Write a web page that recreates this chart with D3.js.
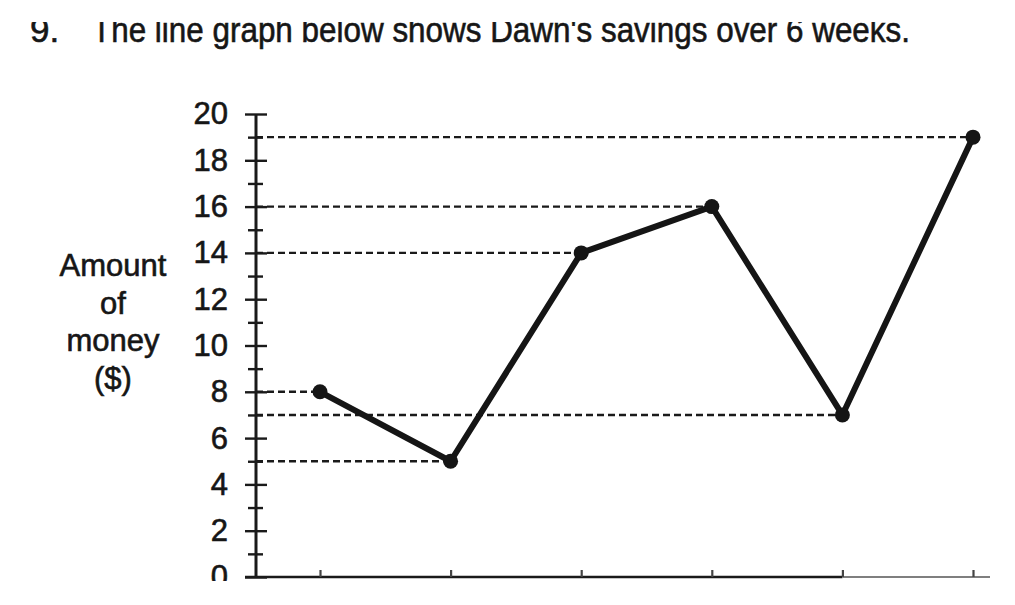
<!DOCTYPE html>
<html>
<head>
<meta charset="utf-8">
<script src="https://cdn.jsdelivr.net/npm/d3@7"></script>
<style>
  body { margin: 0; background: #fff; }
  text { font-family: "Liberation Sans", Arial, sans-serif; fill: #161616; stroke: #161616; stroke-width: 0.6px; }
</style>
</head>
<body>
<svg id="chart" width="1015" height="605"></svg>
<script>
// Dawn's savings, weeks 1-6
const weeks = [1, 2, 3, 4, 5, 6];
const savings = [8, 5, 14, 16, 7, 19];
const majorTicks = [0, 2, 4, 6, 8, 10, 12, 14, 16, 18, 20];
const minorTicks = [1, 3, 5, 7, 9, 11, 13, 15, 17, 19];
const yLabelLines = ['Amount', 'of', 'money', '($)'];
const titleNumber = '9.';
const titleText = "The line graph below shows Dawn's savings over 6 weeks.";

const svg = d3.select('#chart');
const axisX = 256;

const xScale = d3.scaleLinear().domain([1, 6]).range([320, 973]);
const yScale = d3.scaleLinear().domain([0, 20]).range([577, 114]);

// the scan is cropped top and bottom
const defs = svg.append('defs');
defs.append('clipPath').attr('id', 'page')
  .append('rect').attr('x', 0).attr('y', 22).attr('width', 1015).attr('height', 559);

const page = svg.append('g').attr('clip-path', 'url(#page)');

// title
page.append('text')
  .attr('x', 30).attr('y', 42)
  .style('font-size', '35px')
  .text(titleNumber);

page.append('text')
  .attr('x', 92).attr('y', 42)
  .style('font-size', '35px')
  .attr('textLength', 818)
  .attr('lengthAdjust', 'spacingAndGlyphs')
  .text(titleText);

// y axis label
page.append('g')
  .selectAll('text')
  .data(yLabelLines)
  .enter()
  .append('text')
  .attr('x', 113)
  .attr('y', (d, i) => 276 + i * 37.5)
  .attr('text-anchor', 'middle')
  .style('font-size', '31px')
  .text((d) => d);

// guide lines from the axis to each point
page.append('g')
  .selectAll('line')
  .data(weeks)
  .enter()
  .append('line')
  .attr('x1', axisX)
  .attr('x2', (d) => xScale(d))
  .attr('y1', (d, i) => yScale(savings[i]))
  .attr('y2', (d, i) => yScale(savings[i]))
  .attr('stroke', '#1a1a1a')
  .attr('stroke-width', 2.4)
  .attr('stroke-dasharray', '7,4');

// major ticks crossing the axis
const yMajor = page.append('g')
  .attr('transform', `translate(${axisX + 11},0)`)
  .call(d3.axisLeft(yScale).tickValues(majorTicks).tickSize(22).tickPadding(17));
yMajor.select('.domain').remove();
yMajor.selectAll('line').attr('stroke', '#1a1a1a').attr('stroke-width', 2.4);
yMajor.selectAll('text')
  .style('font-size', '31px')
  .style('font-family', '"Liberation Sans", Arial, sans-serif')
  .attr('fill', '#161616');

// minor ticks
const yMinor = page.append('g')
  .attr('transform', `translate(${axisX + 7},0)`)
  .call(d3.axisLeft(yScale).tickValues(minorTicks).tickSize(15).tickFormat(''));
yMinor.select('.domain').remove();
yMinor.selectAll('line').attr('stroke', '#1a1a1a').attr('stroke-width', 2.4);

// axis lines
page.append('line')
  .attr('x1', axisX).attr('x2', axisX)
  .attr('y1', yScale(20)).attr('y2', yScale(0))
  .attr('stroke', '#1a1a1a').attr('stroke-width', 3);

page.append('line')
  .attr('x1', axisX - 11).attr('x2', xScale(5))
  .attr('y1', yScale(0)).attr('y2', yScale(0))
  .attr('stroke', '#1a1a1a').attr('stroke-width', 2.6);

// fainter tail of the x axis
page.append('line')
  .attr('x1', xScale(5)).attr('x2', xScale(6) + 17)
  .attr('y1', yScale(0)).attr('y2', yScale(0))
  .attr('stroke', '#555').attr('stroke-width', 1.6);

// small week ticks on the x axis
const xAxis = page.append('g')
  .attr('transform', `translate(0,${yScale(0)})`)
  .call(d3.axisBottom(xScale).tickValues(weeks).tickSize(-7).tickFormat(''));
xAxis.select('.domain').remove();
xAxis.selectAll('line').attr('stroke', '#444').attr('stroke-width', 2.2);

// savings line
const line = d3.line()
  .x((d) => xScale(d))
  .y((d, i) => yScale(savings[i]));

page.append('path')
  .datum(weeks)
  .attr('d', line)
  .attr('fill', 'none')
  .attr('stroke', '#151515')
  .attr('stroke-width', 6)
  .attr('stroke-linejoin', 'round');

page.append('g')
  .selectAll('circle')
  .data(weeks)
  .enter()
  .append('circle')
  .attr('cx', (d) => xScale(d))
  .attr('cy', (d, i) => yScale(savings[i]))
  .attr('r', 7.5)
  .attr('fill', '#151515');
</script>
</body>
</html>
